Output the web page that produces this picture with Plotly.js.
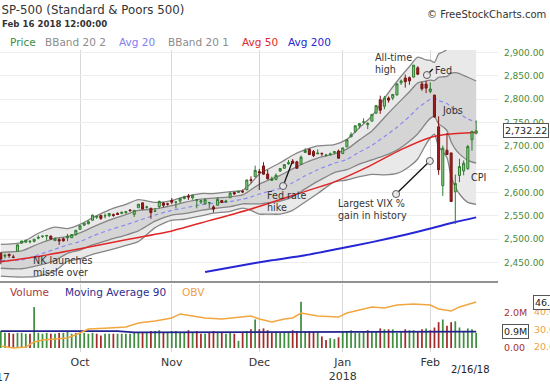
<!DOCTYPE html>
<html><head><meta charset="utf-8">
<script src="https://cdn.plot.ly/plotly-3.0.1.min.js"></script>
<style>html,body{margin:0;padding:0;background:#fff;}#chart{width:550px;height:386px;}</style>
</head><body><div id="chart"></div>
<script>
const dates = ['2017-09-05','2017-09-06','2017-09-07','2017-09-08','2017-09-11','2017-09-12','2017-09-13','2017-09-14','2017-09-15','2017-09-18','2017-09-19','2017-09-20','2017-09-21','2017-09-22','2017-09-25','2017-09-26','2017-09-27','2017-09-28','2017-09-29',
'2017-10-02','2017-10-03','2017-10-04','2017-10-05','2017-10-06','2017-10-09','2017-10-10','2017-10-11','2017-10-12','2017-10-13','2017-10-16','2017-10-17','2017-10-18','2017-10-19','2017-10-20','2017-10-23','2017-10-24','2017-10-25','2017-10-26','2017-10-27','2017-10-30','2017-10-31',
'2017-11-01','2017-11-02','2017-11-03','2017-11-06','2017-11-07','2017-11-08','2017-11-09','2017-11-10','2017-11-13','2017-11-14','2017-11-15','2017-11-16','2017-11-17','2017-11-20','2017-11-21','2017-11-22','2017-11-24','2017-11-27','2017-11-28','2017-11-29','2017-11-30',
'2017-12-01','2017-12-04','2017-12-05','2017-12-06','2017-12-07','2017-12-08','2017-12-11','2017-12-12','2017-12-13','2017-12-14','2017-12-15','2017-12-18','2017-12-19','2017-12-20','2017-12-21','2017-12-22','2017-12-26','2017-12-27','2017-12-28','2017-12-29',
'2018-01-02','2018-01-03','2018-01-04','2018-01-05','2018-01-08','2018-01-09','2018-01-10','2018-01-11','2018-01-12','2018-01-16','2018-01-17','2018-01-18','2018-01-19','2018-01-22','2018-01-23','2018-01-24','2018-01-25','2018-01-26','2018-01-29','2018-01-30','2018-01-31',
'2018-02-01','2018-02-02','2018-02-05','2018-02-06','2018-02-07','2018-02-08','2018-02-09','2018-02-12','2018-02-13','2018-02-14','2018-02-15','2018-02-16'];

const openP = [2470.35,2463.83,2468.06,2462.25,2474.52,2491.94,2493.89,2494.56,2495.67,2502.51,2506.29,2506.84,2507.16,2497.26,2499.39,2501.04,2503.30,2503.41,2509.96,
2521.20,2530.34,2533.48,2540.86,2547.44,2551.39,2549.99,2550.62,2552.88,2555.66,2555.57,2557.17,2562.87,2553.39,2567.56,2578.08,2568.66,2566.52,2560.08,2570.26,2577.75,2575.99,
2583.21,2579.46,2581.93,2587.47,2592.11,2588.71,2584.00,2580.18,2576.53,2577.75,2569.45,2572.95,2582.94,2579.49,2589.17,2600.31,2600.42,2602.66,2605.94,2627.82,2633.93,
2645.10,2657.19,2639.78,2626.24,2628.38,2646.21,2652.19,2661.73,2667.59,2665.87,2660.63,2685.92,2692.71,2688.18,2683.02,2684.22,2679.09,2682.10,2686.10,2689.15,
2683.73,2697.85,2719.31,2731.33,2742.67,2751.15,2745.55,2752.97,2770.18,2798.96,2784.99,2802.40,2802.60,2809.16,2835.05,2845.42,2846.24,2847.48,2867.23,2832.74,2832.41,
2816.45,2808.92,2741.06,2614.78,2690.95,2685.01,2601.78,2636.75,2646.27,2651.21,2713.46,2727.14];
const highP = [2471.97,2469.64,2468.62,2467.11,2488.95,2496.77,2498.37,2498.43,2500.23,2508.32,2507.84,2508.85,2507.16,2503.47,2502.54,2503.51,2511.75,2510.81,2519.44,
2529.23,2535.13,2540.53,2552.51,2549.41,2551.82,2555.23,2555.24,2555.33,2557.65,2559.47,2559.71,2564.11,2562.36,2575.44,2578.29,2572.18,2567.40,2567.07,2582.98,2580.03,2578.29,
2588.40,2581.11,2588.42,2593.38,2597.02,2595.47,2586.50,2583.81,2587.66,2579.66,2572.84,2590.09,2583.96,2584.64,2601.19,2600.94,2604.21,2606.41,2627.69,2634.89,2657.74,
2650.62,2665.19,2648.72,2634.41,2640.99,2651.65,2660.33,2669.72,2671.88,2668.09,2679.63,2694.97,2694.44,2691.01,2692.64,2685.35,2682.74,2685.64,2687.66,2692.12,
2695.89,2714.37,2729.29,2743.45,2748.51,2759.14,2750.80,2767.56,2787.85,2807.54,2807.04,2805.83,2810.33,2833.03,2842.24,2852.97,2848.56,2872.87,2870.62,2837.75,2839.26,
2835.96,2808.92,2763.39,2701.04,2727.67,2685.27,2638.67,2672.61,2668.84,2702.10,2731.51,2754.42];
const lowP = [2446.55,2459.20,2460.29,2459.40,2474.52,2490.37,2492.14,2491.35,2493.16,2499.92,2503.19,2496.67,2499.00,2496.54,2488.03,2495.12,2495.91,2502.93,2507.99,
2520.40,2528.85,2531.80,2540.02,2543.79,2541.60,2544.86,2547.95,2548.31,2552.09,2553.59,2554.69,2559.67,2547.92,2567.56,2564.33,2565.58,2544.00,2559.80,2565.94,2568.25,2572.15,
2574.92,2566.17,2576.77,2585.66,2584.35,2585.02,2566.33,2575.57,2574.48,2566.56,2557.45,2572.95,2577.62,2578.24,2589.17,2595.23,2600.42,2598.87,2605.44,2620.32,2633.93,
2605.52,2639.03,2627.73,2624.75,2626.53,2644.10,2651.47,2659.78,2662.85,2652.01,2659.14,2685.92,2680.74,2676.11,2682.40,2678.13,2677.96,2678.91,2682.69,2673.61,
2682.36,2697.77,2719.07,2727.92,2737.60,2747.86,2736.06,2752.78,2769.64,2768.64,2778.38,2792.56,2798.08,2808.12,2830.59,2824.81,2830.94,2846.18,2851.48,2818.27,2813.04,
2812.70,2759.97,2638.17,2593.07,2681.33,2580.56,2532.69,2622.45,2637.08,2648.87,2689.82,2725.11];
const closeP = [2457.85,2465.54,2465.10,2461.43,2488.11,2496.48,2498.37,2495.62,2500.23,2503.87,2506.65,2508.24,2500.60,2502.22,2496.66,2496.84,2507.04,2510.06,2519.36,
2529.12,2534.58,2537.74,2552.07,2549.33,2544.73,2550.64,2555.24,2550.93,2553.17,2557.64,2559.36,2561.26,2562.10,2575.21,2564.98,2569.13,2557.15,2560.40,2581.07,2572.83,2575.26,
2579.36,2579.85,2587.84,2591.13,2590.64,2594.38,2584.62,2582.30,2584.84,2578.87,2564.62,2585.64,2578.85,2582.14,2599.03,2597.08,2602.42,2601.42,2627.04,2626.07,2647.58,
2642.22,2639.44,2629.57,2629.27,2636.98,2651.50,2659.99,2664.11,2662.85,2652.01,2675.81,2690.16,2681.47,2679.25,2684.57,2683.34,2680.50,2682.62,2687.54,2673.61,
2695.81,2713.06,2723.99,2743.15,2747.71,2751.29,2748.23,2767.56,2786.24,2776.42,2802.56,2798.03,2810.30,2832.97,2839.13,2837.54,2839.25,2872.87,2853.53,2822.43,2823.81,
2821.98,2762.13,2648.94,2695.14,2681.66,2581.00,2619.55,2656.00,2662.94,2698.63,2731.20,2732.22];
const volumeM = [0.95,0.85,0.85,0.8,0.85,0.85,0.8,0.8,2.3,0.85,0.8,0.85,0.8,0.8,0.85,0.85,0.9,0.8,0.85,
0.85,0.85,0.8,0.85,0.8,0.7,0.8,0.8,0.8,0.8,0.8,0.8,0.8,0.85,0.9,0.85,0.85,0.95,0.95,1.0,0.9,0.9,
0.95,0.95,0.85,0.85,1.0,0.9,0.95,0.8,0.8,0.9,0.95,0.9,0.9,0.8,0.85,0.8,0.4,0.85,0.95,1.05,1.6,
1.05,1.1,1.0,0.85,0.9,0.85,0.9,0.9,1.0,0.95,2.6,0.95,0.95,0.9,0.9,0.65,0.45,0.55,0.5,0.6,
0.9,0.95,1.0,0.85,0.85,0.95,1.0,0.95,0.95,1.1,1.05,1.05,1.05,0.85,0.95,1.05,1.0,1.0,0.95,1.05,1.1,
1.0,1.15,1.45,1.6,1.25,1.45,1.5,1.15,0.95,1.1,1.05,0.85];

// Bollinger / averages at sample sessions (index into dates)
const bandIdx = [0,5,9,13,16,19,22,26,30,33,37,41,44,48,51,55,58,60,62,64,67,70,73,76,80,83,86,89,92,95,98,100,102,103,104,105,106,107,108,109,110,112,114];
const avg20 = [2455,2456,2467,2479,2488,2495,2507,2520,2531,2540,2552,2562,2567,2574,2577,2581,2586,2591,2597,2602,2609,2621,2636,2649,2663,2671,2687,2701,2720,2740,2763,2781,2794,2800,2802,2797,2794,2791,2783,2775,2769,2758,2751];
const bbUpper2 = [2489,2493,2513,2526,2523,2532,2546,2563,2575,2585,2579,2583,2591,2598,2598,2602,2605,2620,2640,2650,2664,2680,2692,2700,2703,2714,2739,2764,2802,2838,2870,2890,2884,2883,2879,2897,2901,2907,2930,2939,2940,2937,2927];
const bbLower2 = [2421,2419,2421,2432,2453,2458,2468,2477,2487,2495,2525,2541,2543,2550,2556,2560,2567,2562,2554,2554,2554,2562,2580,2598,2623,2627,2634,2639,2638,2641,2656,2672,2704,2717,2725,2698,2688,2675,2635,2612,2597,2579,2575];
const bbUpper1 = [2472,2475,2490,2502,2506,2514,2526,2541,2553,2562,2565,2572,2579,2586,2588,2591,2595,2606,2618,2626,2637,2651,2664,2674,2683,2693,2713,2732,2761,2789,2816,2835,2839,2841,2840,2847,2848,2849,2856,2857,2855,2847,2839];
const bbLower1 = [2438,2437,2444,2455,2470,2477,2488,2499,2509,2518,2539,2552,2555,2562,2566,2570,2576,2576,2576,2578,2582,2591,2608,2624,2643,2649,2661,2670,2679,2691,2710,2726,2749,2759,2763,2747,2741,2733,2709,2693,2683,2669,2663];
const avg50Idx = [0,10,19,30,41,50,60,70,80,88,96,103,107,114];
const avg50 = [2452,2465,2480,2499,2518,2540,2565,2594,2623,2655,2692,2718,2725,2729];
const avg200Idx = [49,57,65,73,81,89,97,103,109,114];
const avg200 = [2430,2443,2455,2466,2480,2494,2510,2523,2537,2547];
const ma90Idx = [0,28,32,60,75,90,100,114];
const ma90 = [0.95,0.95,0.88,0.88,0.9,0.91,0.92,0.92];
const obvIdx = [0,3,6,8,10,16,19,21,26,30,33,37,41,43,46,49,53,56,60,62,65,68,70,72,76,81,83,86,89,92,95,99,103,105,108,110,114];
const obv = [20.6,19.4,20,22.9,24,25.1,28,30.3,30.9,31.4,33.7,34.9,36.6,38.9,37.7,36.6,36,36.6,37.7,36,34.3,36,36.6,39.4,37.7,37.1,39.4,41.1,42.9,42.3,44,44.6,44,41.7,40.6,42.9,45.7];

const monthTicks = ['2017-10-02','2017-11-01','2017-12-01','2018-01-02','2018-02-01'];
const monthLabels = ['Oct','Nov','Dec','Jan<br>2018','Feb'];
const priceTicks = [2450,2500,2550,2600,2650,2700,2750,2800,2850,2900];

const at = idx => idx.map(i => dates[i]);
const bx = at(bandIdx);
const FONT = 'DejaVu Sans, Verdana, sans-serif';
const BANDLINE = '#858585';

const traces = [
  {x: bx, y: bbLower2, type:'scatter', mode:'lines', line:{color:BANDLINE, width:1.3, shape:'spline', smoothing:0.6}, xaxis:'x', yaxis:'y', hoverinfo:'skip'},
  {x: bx, y: bbUpper2, type:'scatter', mode:'lines', fill:'tonexty', fillcolor:'#e9e9e9', line:{color:BANDLINE, width:1.3, shape:'spline', smoothing:0.6}, xaxis:'x', yaxis:'y', hoverinfo:'skip'},
  {x: bx, y: bbLower1, type:'scatter', mode:'lines', line:{color:BANDLINE, width:1.3, shape:'spline', smoothing:0.6}, xaxis:'x', yaxis:'y', hoverinfo:'skip'},
  {x: bx, y: bbUpper1, type:'scatter', mode:'lines', fill:'tonexty', fillcolor:'#d5d5d5', line:{color:BANDLINE, width:1.3, shape:'spline', smoothing:0.6}, xaxis:'x', yaxis:'y', hoverinfo:'skip'},
  {x: bx, y: avg20, type:'scatter', mode:'lines', line:{color:'#8a8af2', width:1.2, dash:'4px,3px', shape:'spline', smoothing:0.6}, xaxis:'x', yaxis:'y', hoverinfo:'skip'},
  {x: at(avg50Idx), y: avg50, type:'scatter', mode:'lines', line:{color:'#e02626', width:1.5, shape:'spline', smoothing:0.6}, xaxis:'x', yaxis:'y', hoverinfo:'skip'},
  {x: at(avg200Idx), y: avg200, type:'scatter', mode:'lines', line:{color:'#2626d6', width:2, shape:'spline', smoothing:0.6}, xaxis:'x', yaxis:'y', hoverinfo:'skip'},
  {x: dates, open: openP, high: highP, low: lowP, close: closeP, type:'candlestick', xaxis:'x', yaxis:'y4',
   increasing:{line:{color:'#2f7a2f', width:1}, fillcolor:'#8fcf8a'},
   decreasing:{line:{color:'#7a1414', width:1}, fillcolor:'#a31d1d'}, whiskerwidth:0, hoverinfo:'skip'},
  {x: dates, y: volumeM, type:'bar', xaxis:'x', yaxis:'y2', width:0.42,
   marker:{color: closeP.map((c,i)=> (i===0 || c>=closeP[i-1]) ? '#3f8f3f' : '#a32a2a'), line:{width:0}}, hoverinfo:'skip'},
  {x: at(ma90Idx), y: ma90, type:'scatter', mode:'lines', line:{color:'#23238f', width:1.6}, xaxis:'x', yaxis:'y2', hoverinfo:'skip'},
  {x: at(obvIdx), y: obv, type:'scatter', mode:'lines', line:{color:'#f2a640', width:1.5}, xaxis:'x', yaxis:'y3', hoverinfo:'skip'}
];

const W = 498, TOP = 50, BOT = 352, H = BOT - TOP;
const px = X => X / W;
const py = Y => (BOT - Y) / H;
const priceRange = [2408.6, 2905.4];

function txt(text, X, Y, color, size, anchor, extra) {
  return Object.assign({text, xref:'paper', yref:'paper', x:px(X), y:py(Y), xanchor:anchor||'left', yanchor:'middle',
    showarrow:false, font:{family:FONT, size:size, color:color}}, extra||{});
}
function dtxt(text, i, p, anchor) {
  return {text, xref:'x', yref:'y', x:i, y:p, xanchor:anchor||'left', yanchor:'middle', align:'left', showarrow:false,
    font:{family:FONT, size:9.6, color:'#333'}};
}
function circ(i, p) {
  return {type:'circle', xref:'x', yref:'y', xsizemode:'pixel', ysizemode:'pixel', xanchor:i, yanchor:p,
    x0:-3.5, x1:3.5, y0:-3.5, y1:3.5, line:{color:'#555', width:1}, fillcolor:'rgba(235,235,235,0.9)', layer:'above'};
}
function seg(i0, p0, i1, p1) {
  return {type:'line', xref:'x', yref:'y', x0:i0, y0:p0, x1:i1, y1:p1, line:{color:'#111', width:1.3}, layer:'above'};
}

const layout = {
  width:550, height:386, margin:{l:0, r:52, t:TOP, b:386-BOT}, paper_bgcolor:'#fff', plot_bgcolor:'#fff',
  showlegend:false, font:{family:FONT, color:'#333'},
  title:{text:'SP-500 (Standard & Poors 500)', x:0.003, xref:'paper', xanchor:'left', yref:'container', y:1-10/386, yanchor:'middle',
    font:{family:FONT, size:11.8, color:'#333'}},
  xaxis:{type:'category', categoryorder:'array', categoryarray:dates, range:[-0.19, 119.24], anchor:'y2',
    rangeslider:{visible:false},
    tickmode:'array', tickvals:monthTicks, ticktext:monthLabels, showgrid:true, gridcolor:'#d8d8d8', gridwidth:1,
    ticks:'', showline:false, zeroline:false, tickfont:{family:FONT, size:11, color:'#333'}, ticklabelstandoff:2},
  yaxis:{domain:[(BOT-282)/H, 1], range:priceRange, side:'right', tickmode:'array', tickvals:priceTicks, tickformat:',.2f',
    showgrid:true, gridcolor:'#ededed', zeroline:false, ticks:'', showline:false, ticklabelstandoff:5,
    tickfont:{family:FONT, size:9, color:'#4a8a3a'}},
  yaxis4:{overlaying:'y', range:priceRange, visible:false, showgrid:false, zeroline:false},
  yaxis2:{domain:[0, (BOT-284)/H], range:[-0.225, 3.595], side:'right', tickmode:'array', tickvals:[0,2], ticktext:['0.00','2.0M'],
    showgrid:false, zeroline:false, ticks:'', showline:false, ticklabelstandoff:5, tickfont:{family:FONT, size:9.5, color:'#a83030'}},
  yaxis3:{overlaying:'y2', range:[17.14, 56], side:'right', anchor:'free', position:1, shift:30, tickmode:'array', tickvals:[20,30,40],
    ticktext:['20.0','30.0','40.0'], showgrid:false, zeroline:false, ticks:'', showline:false, ticklabelstandoff:5,
    tickfont:{family:FONT, size:9.5, color:'#f0a040'}},
  shapes:[
    {type:'line', xref:'paper', yref:'paper', x0:0, x1:1, y0:py(282), y1:py(282), line:{color:'#6e6e6e', width:1.5}, layer:'above'},
    seg(102.2, 2851.8, 103.6, 2864.7), circ(102.2, 2851.8),
    seg(94.8, 2597, 102.9, 2667.7), circ(94.8, 2597), circ(102.9, 2667.7),
    seg(67.7, 2614.1, 69.8, 2663.4), circ(67.7, 2614.1)
  ],
  annotations:[
    txt('<b>Feb 16 2018 12:00:00</b>', 0, 24, '#333', 8.6),
    txt('© FreeStockCharts.com', 548, 15, '#333', 10, 'right'),
    txt('Price', 8, 42, '#3d8b3d', 10.5),
    txt('BBand 20 2', 43, 42, '#8c8c8c', 10.5),
    txt('Avg 20', 117, 42, '#8080f0', 10.5),
    txt('BBand 20 1', 166, 42, '#8c8c8c', 10.5),
    txt('Avg 50', 240, 42, '#e02828', 10.5),
    txt('Avg 200', 286, 42, '#2828d0', 10.5),
    txt('Volume', 8, 292, '#a83a3a', 10.5),
    txt('Moving Average 90', 63, 292, '#2e2e8e', 10.5),
    txt('OBV', 180, 292, '#f0a04a', 10.5),
    txt('2017', 12, 377, '#333', 11, 'right'),
    txt('2/16/18', 470, 369, '#222', 10, 'center'),
    dtxt('All-time<br>high', 89.3, 2876.4),
    dtxt('Fed', 103.65, 2862.5),
    dtxt('Jobs', 105.3, 2776.9),
    dtxt('CPI', 112.3, 2633.4),
    dtxt('Largest VIX %<br>gain in history', 80.4, 2564.9),
    dtxt('Fed rate<br>hike', 63.4, 2580.9),
    dtxt('NK launches<br>missle over', 7.25, 2441.8),
    {text:'2,732.22', xref:'paper', yref:'y', x:px(503), y:2732.22, xanchor:'left', yanchor:'middle', showarrow:false,
      font:{family:FONT, size:9.5, color:'#222'}, bgcolor:'#fff', bordercolor:'#555', borderwidth:1, borderpad:1},
    {text:'0.9M', xref:'paper', yref:'y2', x:px(502), y:0.92, xanchor:'left', yanchor:'middle', showarrow:false,
      font:{family:FONT, size:9.5, color:'#222'}, bgcolor:'#fff', bordercolor:'#555', borderwidth:1, borderpad:1},
    {text:'46.25', xref:'paper', yref:'y3', x:px(533), y:45.7, xanchor:'left', yanchor:'middle', showarrow:false,
      font:{family:FONT, size:9.5, color:'#222'}, bgcolor:'#fff', bordercolor:'#555', borderwidth:1, borderpad:1}
  ]
};

Plotly.newPlot('chart', traces, layout, {staticPlot:true, displayModeBar:false});
</script>
</body></html>
